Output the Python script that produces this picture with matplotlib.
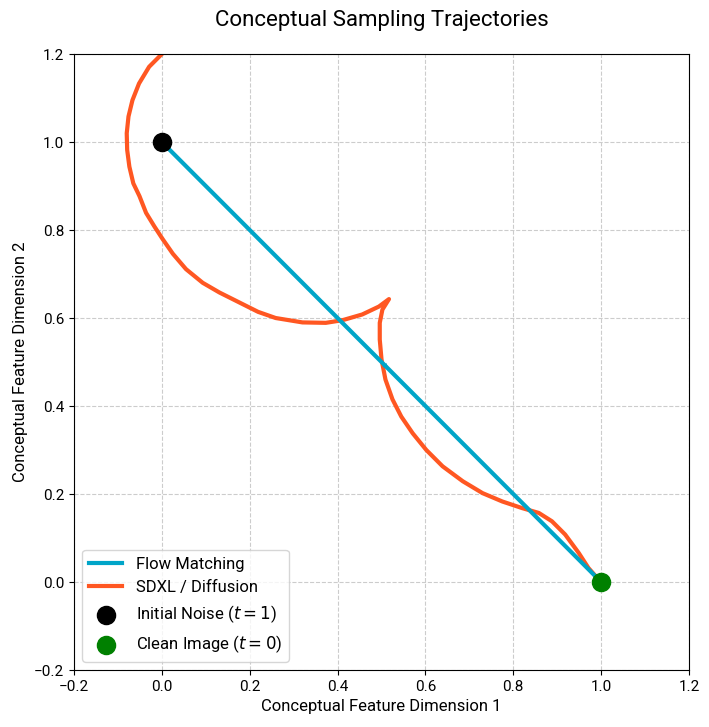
import numpy as np
import matplotlib.pyplot as plt

plt.rcParams['font.family'] = ['Roboto', 'DejaVu Sans']

# straight flow matching path
flow_x = [0.0, 1.0]
flow_y = [1.0, 0.0]

# curved diffusion path
sdxl_x = [0.000, -0.029, -0.052, -0.067, -0.076, -0.080, -0.079, -0.074, -0.065, -0.051,
          -0.036, -0.017, 0.002, 0.025, 0.055, 0.093, 0.131, 0.177, 0.219, 0.259,
          0.320, 0.373, 0.411, 0.456, 0.494, 0.517, 0.502, 0.496, 0.496, 0.500,
          0.509, 0.525, 0.545, 0.571, 0.602, 0.639, 0.685, 0.730, 0.775, 0.820,
          0.858, 0.888, 0.918, 0.949, 0.971, 0.994, 1.0]
sdxl_y = [1.200, 1.171, 1.133, 1.095, 1.058, 1.020, 0.982, 0.944, 0.906, 0.877,
          0.839, 0.808, 0.779, 0.746, 0.711, 0.680, 0.658, 0.635, 0.614, 0.600,
          0.590, 0.589, 0.595, 0.608, 0.626, 0.643, 0.619, 0.589, 0.551, 0.506,
          0.460, 0.415, 0.376, 0.338, 0.300, 0.263, 0.229, 0.202, 0.183, 0.168,
          0.157, 0.138, 0.108, 0.066, 0.032, 0.006, 0.0]

start = (0.0, 1.0)
end = (1.0, 0.0)

blue = '#00A5C8'
orange = '#FF5722'

fig = plt.figure(figsize=(7.09, 7.27), dpi=100)
ax = fig.add_axes([0.1044, 0.0784, 0.8674, 0.8473])

ax.plot(flow_x, flow_y, color=blue, lw=3, label='Flow Matching', zorder=3)
ax.plot(sdxl_x, sdxl_y, color=orange, lw=3, label='SDXL / Diffusion', zorder=2,
        solid_joinstyle='round')

# small direction arrows
ax.annotate('', xy=(0.52, 0.48), xytext=(0.50, 0.50),
            arrowprops=dict(arrowstyle='-|>', color=blue, lw=0, mutation_scale=10), zorder=4)
ax.annotate('', xy=(0.425, 0.598), xytext=(0.41, 0.595),
            arrowprops=dict(arrowstyle='-|>', color=orange, lw=0, mutation_scale=8), zorder=2)

ax.scatter([start[0]], [start[1]], s=170, color='black', zorder=5, label='Initial Noise ($t=1$)')
ax.scatter([end[0]], [end[1]], s=170, color='green', zorder=5, label='Clean Image ($t=0$)')

ax.set_xlim(-0.2, 1.2)
ax.set_ylim(-0.2, 1.2)
ax.set_xlabel('Conceptual Feature Dimension 1', fontsize=12)
ax.set_ylabel('Conceptual Feature Dimension 2', fontsize=12)
ax.set_title('Conceptual Sampling Trajectories', fontsize=16, pad=20)
ax.tick_params(labelsize=11)
ax.grid(True, linestyle='--', color='#cccccc', lw=0.8)
ax.legend(loc='lower left', fontsize=12)

fig.savefig('out.png', dpi=100)
